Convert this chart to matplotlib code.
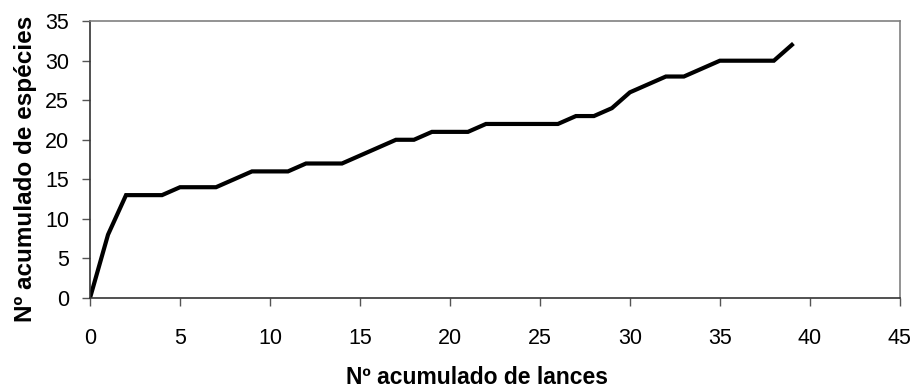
import matplotlib.pyplot as plt

plt.rcParams['font.family'] = ['Liberation Sans', 'DejaVu Sans']

lances = list(range(0, 40))
especies = [0, 8, 13, 13, 13, 14, 14, 14, 15, 16,
            16, 16, 17, 17, 17, 18, 19, 20, 20, 21,
            21, 21, 22, 22, 22, 22, 22, 23, 23, 24,
            26, 27, 28, 28, 29, 30, 30, 30, 30, 32]
xticks = list(range(0, 50, 5))
yticks = list(range(0, 40, 5))

fig = plt.figure(figsize=(9.14, 3.92), dpi=100)
ax = fig.add_axes([0.0985, 0.24, 0.886, 0.706])

ax.plot(lances, especies, color='black', linewidth=3, solid_joinstyle='miter')

ax.set_xlim(0, 45)
ax.set_ylim(0, 35)
ax.set_xticks(xticks)
ax.set_yticks(yticks)
ax.tick_params(direction='out', length=6, width=1, labelsize=15.5, color='#555555')
ax.tick_params(axis='x', pad=16)
ax.tick_params(axis='y', pad=9)

for side in ['top', 'right']:
    ax.spines[side].set_color('#808080')
    ax.spines[side].set_linewidth(1.2)
for side in ['bottom', 'left']:
    ax.spines[side].set_color('#333333')
    ax.spines[side].set_linewidth(1.2)

ax.set_xlabel('Nº acumulado de lances', fontsize=16.5, fontweight='bold')
ax.set_ylabel('Nº acumulado de espécies', fontsize=17.5, fontweight='bold')
ax.xaxis.set_label_coords(0.478, -0.245)
ax.yaxis.set_label_coords(-0.066, 0.465)

fig.savefig('out.png', dpi=100)
